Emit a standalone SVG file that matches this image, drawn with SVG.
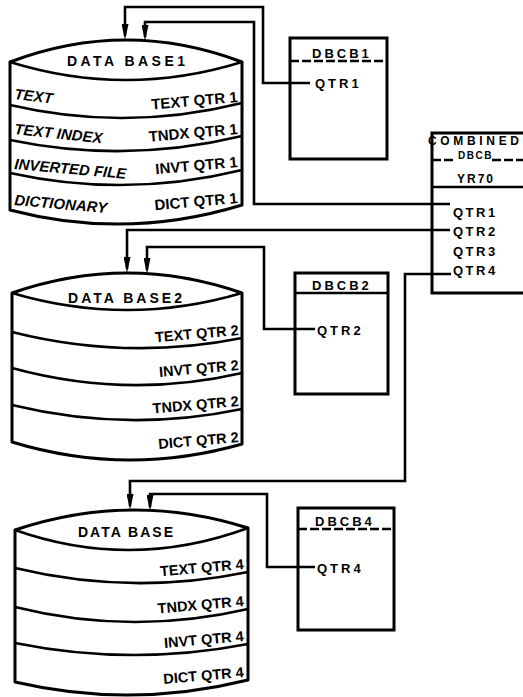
<svg xmlns="http://www.w3.org/2000/svg" width="523" height="697" viewBox="0 0 523 697">
<style>
.bg{fill:#fff}
.cyl{fill:#fff;stroke:#000;stroke-width:3;stroke-linejoin:round}
.sep{fill:none;stroke:#000;stroke-width:2.6}
.box{fill:#fff;stroke:#000;stroke-width:3}
.div{stroke:#000;stroke-width:2.5}
.dash{stroke:#000;stroke-width:2.5;stroke-dasharray:9 3}
.conn{fill:none;stroke:#000;stroke-width:2.6;stroke-linejoin:miter}
.title{font-family:"Liberation Sans",Arial,sans-serif;font-weight:bold;font-size:14px;fill:#000}
.ll{font-family:"Liberation Sans",Arial,sans-serif;font-weight:bold;font-style:italic;font-size:15px;fill:#000}
.rl{font-family:"Liberation Sans",Arial,sans-serif;font-weight:bold;font-size:15px;fill:#000;text-anchor:end}
.bl{font-family:"Liberation Sans",Arial,sans-serif;font-weight:bold;font-size:13px;fill:#000;letter-spacing:3px}
</style>
<defs>
<marker id="arr" viewBox="0 0 16 7" refX="12" refY="3.5" markerWidth="16" markerHeight="7" markerUnits="userSpaceOnUse" orient="auto">
<path d="M0,0 L16,3.5 L0,7 z" fill="#000"/>
</marker>
</defs>
<rect class="bg" x="0" y="0" width="523" height="697"/>

<g id="db1">
<path class="cyl" d="M10,62 Q126,18 242,62 L242,205 Q126,240.5 10,210 Z"/>
<path class="sep" d="M10,62 Q126,98 242,62"/>
<path class="sep" d="M10,105 Q126,132 242,103"/>
<path class="sep" d="M10,140 Q126,164 242,136"/>
<path class="sep" d="M10,173 Q126,198.5 242,170"/>
<text class="title" x="67" y="66" textLength="118" lengthAdjust="spacing">DATA BASE1</text>
<text class="ll" x="14" y="99" transform="rotate(7 14 99)">TEXT</text>
<text class="ll" x="14" y="134" transform="rotate(6 14 134)">TEXT INDEX</text>
<text class="ll" x="14" y="169" transform="rotate(5 14 169)">INVERTED FILE</text>
<text class="ll" x="14" y="205" transform="rotate(5 14 205)">DICTIONARY</text>
<text class="rl" x="238" y="102" transform="rotate(-5 238 102)">TEXT QTR 1</text>
<text class="rl" x="238" y="134" transform="rotate(-5 238 134)">TNDX QTR 1</text>
<text class="rl" x="238" y="167" transform="rotate(-5 238 167)">INVT QTR 1</text>
<text class="rl" x="238" y="203" transform="rotate(-5 238 203)">DICT QTR 1</text>
</g>

<g id="db2">
<path class="cyl" d="M12,293 Q127,253 242,293 L242,444 Q127,477 12,442 Z"/>
<path class="sep" d="M12,293 Q127,327 242,293"/>
<path class="sep" d="M12,332 Q127,361 242,338"/>
<path class="sep" d="M12,368 Q127,399.5 242,373"/>
<path class="sep" d="M12,405 Q127,433 242,409"/>
<text class="title" x="68" y="303" textLength="114" lengthAdjust="spacing">DATA BASE2</text>
<text class="rl" x="239" y="335" transform="rotate(-5 239 335)" style="font-size:14.5px">TEXT QTR 2</text>
<text class="rl" x="239" y="370" transform="rotate(-5 239 370)" style="font-size:14.5px">INVT QTR 2</text>
<text class="rl" x="239" y="406" transform="rotate(-5 239 406)" style="font-size:14.5px">TNDX QTR 2</text>
<text class="rl" x="239" y="442" transform="rotate(-5 239 442)" style="font-size:14.5px">DICT QTR 2</text>
</g>

<g id="db4">
<path class="cyl" d="M15,530 Q131,491 248,528 L248,680 Q131,709 15,682 Z"/>
<path class="sep" d="M15,530 Q131,571 248,528"/>
<path class="sep" d="M15,568 Q131,596 248,572"/>
<path class="sep" d="M15,607 Q131,636 248,609"/>
<path class="sep" d="M15,643 Q131,666.5 248,644"/>
<text class="title" x="78" y="537" textLength="95" lengthAdjust="spacing">DATA BASE</text>
<text class="rl" x="244" y="569" transform="rotate(-5 244 569)" style="font-size:14.5px">TEXT QTR 4</text>
<text class="rl" x="244" y="606" transform="rotate(-5 244 606)" style="font-size:14.5px">TNDX QTR 4</text>
<text class="rl" x="244" y="641" transform="rotate(-5 244 641)" style="font-size:14.5px">INVT QTR 4</text>
<text class="rl" x="244" y="677" transform="rotate(-5 244 677)" style="font-size:14.5px">DICT QTR 4</text>
</g>

<g id="dbcb1">
<rect class="box" x="290" y="38" width="97" height="121"/>
<line class="dash" x1="290" y1="61" x2="387" y2="61"/>
<text class="bl" x="312" y="58">DBCB1</text>
<text class="bl" x="315" y="88">QTR1</text>
</g>

<g id="dbcb2">
<rect class="box" x="295" y="273" width="93" height="121"/>
<line class="div" x1="295" y1="293" x2="388" y2="293"/>
<text class="bl" x="312" y="290">DBCB2</text>
<text class="bl" x="317" y="335">QTR2</text>
</g>

<g id="dbcb4">
<rect class="box" x="298" y="508" width="96" height="122"/>
<line class="dash" x1="298" y1="529" x2="394" y2="529"/>
<text class="bl" x="315" y="526">DBCB4</text>
<text class="bl" x="317" y="573">QTR4</text>
</g>

<g id="combined">
<rect class="box" x="432" y="133" width="100" height="160"/>
<line class="dash" x1="432" y1="160" x2="455" y2="160"/>
<line class="dash" x1="492" y1="160" x2="523" y2="160"/>
<line class="div" x1="432" y1="187" x2="523" y2="187"/>
<text class="bl" x="428" y="145" textLength="94" lengthAdjust="spacing" style="font-size:12px">COMBINED</text>
<text class="bl" x="458" y="159" style="font-size:10px;letter-spacing:1.5px">DBCB</text>
<text class="bl" x="457" y="183" style="font-size:12px;letter-spacing:2px">YR70</text>
<text class="bl" x="453" y="217" style="letter-spacing:2.5px">QTR1</text>
<text class="bl" x="453" y="236" style="letter-spacing:2.5px">QTR2</text>
<text class="bl" x="453" y="256" style="letter-spacing:2.5px">QTR3</text>
<text class="bl" x="453" y="275" style="letter-spacing:2.5px">QTR4</text>
</g>

<g id="connectors">
<path class="conn" d="M310,83 H263 V7 H125 V36" marker-end="url(#arr)"/>
<path class="conn" d="M450,204 H254 V22 H145 V37" marker-end="url(#arr)"/>
<path class="conn" d="M450,230 H127 V269" marker-end="url(#arr)"/>
<path class="conn" d="M315,329 H264 V247 H147 V270" marker-end="url(#arr)"/>
<path class="conn" d="M451,274 H405 V481 H130 V506" marker-end="url(#arr)"/>
<path class="conn" d="M315,567 H267 V494 H150 V507" marker-end="url(#arr)"/>
</g>
</svg>
